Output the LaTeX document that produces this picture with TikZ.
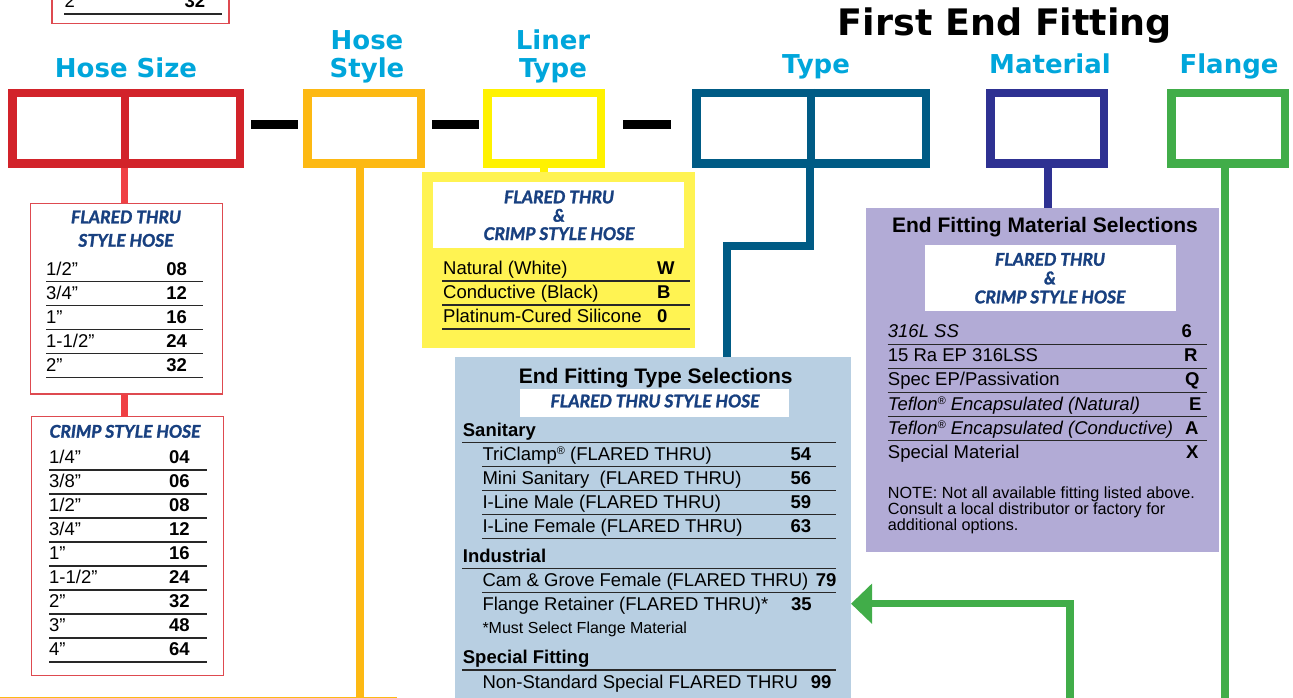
\documentclass[tikz,border=0pt]{standalone}
\usepackage{fontspec}
\setmainfont{Liberation Sans}
\newfontfamily\hdfont{DejaVu Sans}
\newfontfamily\subfont{Lato}[BoldItalicFeatures={FakeBold=1.6}]
\usetikzlibrary{arrows.meta,calc}
\definecolor{hdcyan}{RGB}{0,166,219}
\definecolor{boxred}{RGB}{210,35,42}
\definecolor{conred}{RGB}{239,64,68}
\definecolor{tabred}{RGB}{222,74,80}
\definecolor{boxorange}{RGB}{253,185,19}
\definecolor{boxyellow}{RGB}{255,242,0}
\definecolor{ybg}{RGB}{255,243,82}
\definecolor{boxteal}{RGB}{0,91,133}
\definecolor{boxnavy}{RGB}{46,49,146}
\definecolor{boxgreen}{RGB}{65,173,73}
\definecolor{lavbg}{RGB}{178,171,214}
\definecolor{bluebg}{RGB}{184,207,226}
\definecolor{subblue}{RGB}{24,64,128}
\definecolor{rulegray}{RGB}{40,40,40}
\newcommand{\regmark}{\raisebox{6pt}{\fontsize{11}{11}\selectfont ®}}
\tikzset{
  lbl/.style={font=\hdfont\bfseries\fontsize{26}{26}\selectfont, text=hdcyan, anchor=base, inner sep=0pt},
  ttlstyle/.style={font=\hdfont\bfseries\fontsize{36.5}{36.5}\selectfont, text=black, anchor=base, inner sep=0pt},
  selbox/.style={draw, line width=8.5pt, minimum height=70.5pt, minimum width=113.5pt, inner sep=0pt, outer sep=4.25pt},
  dashbar/.style={line width=9pt, black},
  conn/.style={line width=7.5pt},
  tabframe/.style={draw=tabred, line width=1.5pt, fill=white, anchor=north west, inner sep=0pt, outer sep=0pt},
  panel/.style={anchor=north west, inner sep=0pt, outer sep=0pt},
  rowline/.style={line width=1.4pt, rulegray},
  row/.style={font=\fontsize{18.5}{18.5}\selectfont, inner sep=0pt, anchor=base west},
  rowb/.style={font=\bfseries\fontsize{18.5}{18.5}\selectfont, inner sep=0pt, anchor=base west},
  code/.style={font=\bfseries\fontsize{18.5}{18.5}\selectfont, inner sep=0pt, anchor=base west},
  ccode/.style={font=\bfseries\fontsize{18.5}{18.5}\selectfont, inner sep=0pt, anchor=base},
  sub/.style={font=\subfont\bfseries\itshape\fontsize{17.5}{17.5}\selectfont, text=subblue, inner sep=0pt, anchor=base},
  seltitle/.style={font=\bfseries\fontsize{21}{21}\selectfont, inner sep=0pt, anchor=base},
  note/.style={font=\fontsize{16.2}{16.2}\selectfont, inner sep=0pt, anchor=base west},
  smalltxt/.style={font=\fontsize{16}{16}\selectfont, inner sep=0pt, anchor=base west},
}
\begin{document}
\begin{tikzpicture}[x=1pt,y=-1pt]
\useasboundingbox (0,0) rectangle (1293,698);
\clip (0,0) rectangle (1293,698);

% ---------- title and labels ----------
\node[ttlstyle] (ttl) at (1005,36) {First End Fitting};
\node[lbl] (lhs) at (126,77.3) {Hose Size};
\node[lbl] (lhst1) at (367,49.5) {Hose};
\node[lbl] (lhst2) at (367,77.3) {Style};
\node[lbl] (llt1) at (553,49.5) {Liner};
\node[lbl] (llt2) at (553,77.3) {Type};
\node[lbl] (lty) at (816,73.5) {Type};
\node[lbl] (lmat) at (1050,73.5) {Material};
\node[lbl] (lfl) at (1229,73.5) {Flange};

% ---------- selection boxes ----------
\node[selbox, draw=boxred, minimum width=227.5pt] (hs) at (126,128.5) {};
\draw[line width=8.5pt, boxred] ([xshift=-1pt]hs.north) -- ([xshift=-1pt]hs.south);
\node[selbox, draw=boxorange] (hst) at (364,128.5) {};
\node[selbox, draw=boxyellow] (lt) at (544,128.5) {};
\node[selbox, draw=boxteal, minimum width=229.5pt] (ty) at (811,128.5) {};
\draw[line width=8.5pt, boxteal] (ty.north) -- (ty.south);
\node[selbox, draw=boxnavy] (mat) at (1047,128.5) {};
\node[selbox, draw=boxgreen] (fl) at (1228,128.5) {};

\draw[dashbar] (251,124.7) -- (298,124.7);
\draw[dashbar] (432,124.7) -- (479,124.7);
\draw[dashbar] (623,124.7) -- (671,124.7);

% ---------- top partial table ----------
\node[tabframe, anchor=south west, minimum width=177pt, minimum height=60pt] (ptab) at (52,23.3) {};
\node[row] (p1) at (64.5,7.5) {2”};
\node[ccode] (p2) at (195,7.5) {32};
\draw[rowline] (64.3,14) -- (222.3,14);

% ---------- flared thru hose size table ----------
\node[tabframe, minimum width=192pt, minimum height=190.7pt] (ftab) at (30.7,203.3) {};
\node[sub] (ft1) at (126,223.3) {FLARED THRU};
\node[sub] (ft2) at (126,246.7) {STYLE HOSE};
\foreach \s/\c [count=\i from 0] in {{1/2”}/08,{3/4”}/12,{1”}/16,{1-1/2”}/24,{2”}/32} {
  \node[row] (fs\i) at (46,275+24*\i) {\s};
  \node[ccode] (fc\i) at (176.7,275+24*\i) {\c};
  \draw[rowline] (46,281.5+24*\i) -- (203.3,281.5+24*\i);
}

% ---------- crimp hose size table ----------
\node[tabframe, minimum width=191.6pt, minimum height=258.6pt] (ctab) at (31.7,416.7) {};
\node[sub] (ct1) at (125,437.7) {CRIMP STYLE HOSE};
\foreach \s/\c [count=\i from 0] in {{1/4”}/04,{3/8”}/06,{1/2”}/08,{3/4”}/12,{1”}/16,{1-1/2”}/24,{2”}/32,{3”}/48,{4”}/64} {
  \node[row] (cs\i) at (49,463.5+24*\i) {\s};
  \node[ccode] (cc\i) at (179.3,463.5+24*\i) {\c};
  \draw[rowline] (49,470+24*\i) -- (206.7,470+24*\i);
}

% ---------- liner type table ----------
\node[panel, fill=ybg, minimum width=273pt, minimum height=176pt] (ltab) at (422,172) {};
\node[panel, fill=white, minimum width=251.3pt, minimum height=65.7pt] (lwhite) at (432.7,182) {};
\node[sub] (ls1) at (559,203.3) {FLARED THRU};
\node[sub] (ls2) at (559,221.7) {\&};
\node[sub] (ls3) at (559,240) {CRIMP STYLE HOSE};
\foreach \s/\c [count=\i from 0] in {Natural (White)/W,Conductive (Black)/B,Platinum-Cured Silicone/0} {
  \node[row] (lr\i) at (443,274.5+24*\i) {\s};
  \node[code] (lc\i) at (657,274.5+24*\i) {\c};
  \draw[rowline] (442,281+24*\i) -- (690,281+24*\i);
}

% ---------- end fitting type table ----------
\node[panel, fill=bluebg, minimum width=396pt, minimum height=360pt] (ttab) at (455,356.7) {};
\node[seltitle] (tt) at (655.7,383.3) {End Fitting Type Selections};
\node[panel, fill=white, minimum width=269pt, minimum height=27.7pt] (twhite) at (520,389) {};
\node[sub] (tsub) at (655,407.3) {FLARED THRU STYLE HOSE};
\node[rowb] (tsan) at (462.7,436.5) {Sanitary};
\draw[rowline] (462,442.7) -- (836,442.7);
\foreach \s/\c [count=\i from 0] in {TriClamp\regmark{} (FLARED THRU)/54,Mini Sanitary\ \ (FLARED THRU)/56,I-Line Male (FLARED THRU)/59,I-Line Female (FLARED THRU)/63} {
  \node[row] (tr\i) at (482.3,460.2+24*\i) {\s};
  \node[code] (tc\i) at (790.5,460.2+24*\i) {\c};
  \draw[rowline] (482,466.7+24*\i) -- (836,466.7+24*\i);
}
\node[rowb] (tind) at (462.7,562.2) {Industrial};
\draw[rowline] (462,568.7) -- (836,568.7);
\node[row] (tcam) at (482.3,586.2) {Cam \& Grove Female (FLARED THRU)};
\node[code] (tcamc) at (815.7,586.2) {79};
\draw[rowline] (482,592.7) -- (836,592.7);
\node[row] (tfr) at (482.3,610.6) {Flange Retainer (FLARED THRU)*};
\node[code] (tfrc) at (791,610.6) {35};
\node[smalltxt] (tmust) at (482.3,633.6) {*Must Select Flange Material};
\node[rowb] (tspec) at (462.7,663.5) {Special Fitting};
\draw[rowline] (462,670) -- (836,670);
\node[row] (tns) at (482.3,688.3) {Non-Standard Special FLARED THRU};
\node[code] (tnsc) at (810.7,688.3) {99};

% ---------- end fitting material table ----------
\node[panel, fill=lavbg, minimum width=353pt, minimum height=343.4pt] (mtab) at (866,208.3) {};
\node[seltitle] (mt) at (1045,232.3) {End Fitting Material Selections};
\node[panel, fill=white, minimum width=250.7pt, minimum height=65.7pt] (mwhite) at (925,245) {};
\node[sub] (ms1) at (1050,265.7) {FLARED THRU};
\node[sub] (ms2) at (1050,284.3) {\&};
\node[sub] (ms3) at (1050,303.3) {CRIMP STYLE HOSE};
\node[row] (mr0) at (887.7,337.8) {\itshape 316L SS};
\node[code] (mc0) at (1181.5,337.8) {6};
\node[row] (mr1) at (887.7,361.8) {15 Ra EP 316LSS};
\node[code] (mc1) at (1184,361.8) {R};
\node[row] (mr2) at (887.7,385.8) {Spec EP/Passivation};
\node[code] (mc2) at (1185,385.8) {Q};
\node[row] (mr3) at (887.7,410) {\itshape Teflon\regmark{} Encapsulated (Natural)};
\node[code] (mc3) at (1189,410) {E};
\node[row] (mr4) at (887.7,434) {\itshape Teflon\regmark{} Encapsulated (Conductive)};
\node[code] (mc4) at (1185,434) {A};
\node[row] (mr5) at (887.7,458.2) {Special Material};
\node[code] (mc5) at (1186,458.2) {X};
\foreach \i in {0,...,4} {
  \draw[rowline] (887.7,344.3+24*\i) -- (1206.7,344.3+24*\i);
}
\node[note] (n1) at (887.7,498.3) {NOTE: Not all available fitting listed above.};
\node[note] (n2) at (887.7,514.3) {Consult a local distributor or factory for};
\node[note] (n3) at (887.7,530.3) {additional options.};

% ---------- connectors ----------
\draw[conn, conred] ([xshift=-1.5pt]hs.south) -- ([xshift=-1.5pt]hs.south |- ftab.north);
\draw[conn, conred] ([xshift=-1.5pt]hs.south |- ftab.south) -- ([xshift=-1.5pt]hs.south |- ctab.north);
\coordinate (hstend) at (360,710);
\draw[conn, boxorange] ([xshift=-4pt]hst.south) -- (hstend);
\coordinate (orl) at (0,697.3);
\coordinate (orr) at (397,697.3);
\draw[line width=1.5pt, boxorange] (orl) -- (orr);
\draw[conn, boxyellow] (lt.south) -- (lt.south |- ltab.north);
\coordinate (tbend1) at (810,246);
\coordinate (tbend2) at (727,246);
\draw[conn, boxteal] ([xshift=-1pt]ty.south) -- (tbend1) -- (tbend2) -- (tbend2 |- ttab.north);
\draw[conn, boxnavy] ([xshift=1pt]mat.south) -- ([xshift=1pt]mat.south |- mtab.north);
\coordinate (flend) at (1225,710);
\draw[conn, boxgreen] ([xshift=-3pt]fl.south) -- (flend);
\coordinate (gstart) at (1070,710);
\coordinate (gbend) at (1070,603.7);
\draw[conn, boxgreen, -{Triangle[length=21pt,width=39pt]}] (gstart) -- (gbend) -- (gbend -| ttab.east);
\end{tikzpicture}
\end{document}
